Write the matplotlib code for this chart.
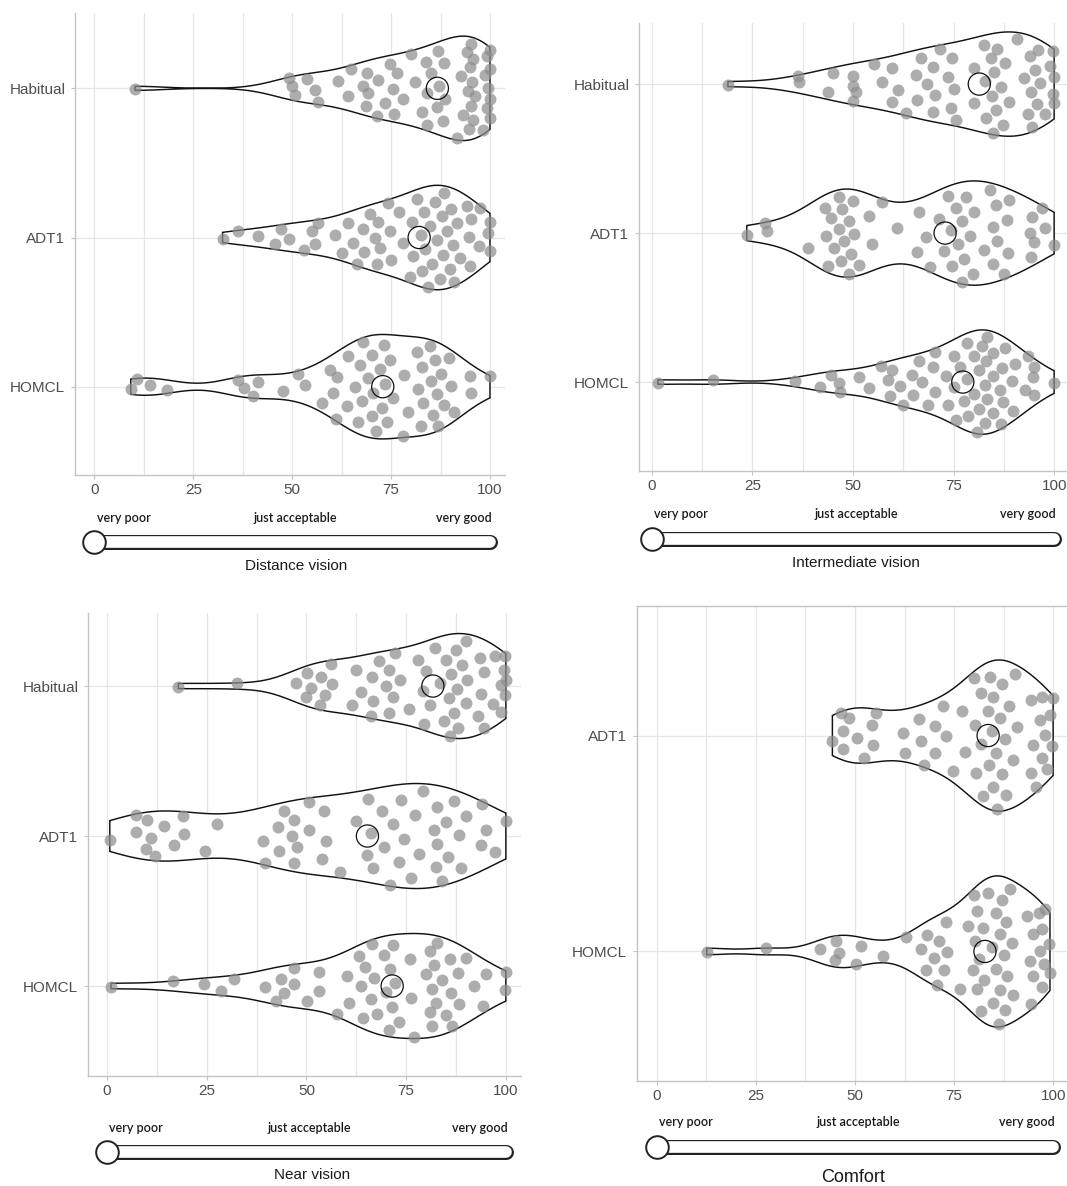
import numpy as np
import matplotlib
matplotlib.use('Agg')
import matplotlib.pyplot as plt

# ---- data (scores, 0-100 VAS) ----
groups3 = ['HOMCL', 'ADT1', 'Habitual']

dist_habitual = [10.3, 49.3, 50, 50.6, 53.7, 55.8, 56.6, 61.5, 64, 64.8, 67.8, 68.6, 69, 69.2,
                 71.5, 71.6, 73.5, 74.7, 75.6, 75.8, 76.4, 78.1, 80, 81, 82.7, 83.8, 84, 84.2,
                 85.2, 86.7, 86.9, 87.2, 88.2, 88.4, 88.6, 91.6, 92.8, 93.3, 94.1, 94.5, 94.8,
                 95, 95.1, 95.2, 95.4, 95.6, 95.8, 96.2, 98.3, 98.7, 99.2, 99.3, 99.6, 100,
                 100, 100, 100]
dist_adt1 = [32.4, 36.4, 41.3, 45.7, 47.2, 49.3, 52.9, 54.9, 55.8, 56.6, 60.8, 62.7, 64.2, 65.5,
             66.5, 68, 68.2, 69.7, 71, 71.5, 71.8, 72.2, 74.3, 74.7, 74.9, 77.1, 77.9, 79.8,
             80.2, 80.6, 81.5, 82.5, 82.7, 83.3, 83.6, 84.4, 84.8, 85.3, 86.1, 86.5, 87.4,
             87.8, 88.2, 88.4, 89.1, 89.9, 90.1, 90.6, 90.8, 91.7, 92.4, 94.1, 94.8, 95,
             95.1, 97.3, 97.5, 99.4, 100, 100]
dist_homcl = [9.2, 10.7, 14.1, 18.3, 36.2, 37.9, 40, 41.4, 47.8, 51.4, 53.2, 57.5, 59.6, 60.4,
              61.2, 61.4, 63.8, 64.2, 65.9, 66.7, 67.1, 67.6, 68, 69.2, 70.1, 70.3, 70.5,
              71.2, 72.2, 72.6, 73.2, 73.5, 73.9, 74.7, 75.6, 77.9, 78.3, 79.4, 81.5, 81.9,
              82.5, 82.7, 83, 84.8, 85, 85.7, 86.1, 86.7, 86.9, 87.5, 88.4, 89.7, 90.1,
              90.9, 94.9, 95.1, 100]

int_habitual = [18.9, 36.3, 36.5, 43.9, 45, 49.9, 50, 50, 50.8, 55.3, 57.2, 59.7, 59.8, 61.3,
                63.1, 65.7, 66, 66.9, 68.4, 69.8, 70, 70.4, 71.7, 73.5, 74.3, 74.6, 75, 75.6,
                80, 80.1, 82.6, 82.8, 83.1, 84.3, 84.5, 84.9, 85.1, 85.6, 85.9, 86.7, 87.4,
                87.9, 88.9, 90.7, 92.4, 93.6, 93.9, 94.2, 94.5, 95.3, 95.7, 96.1, 96.5, 97.8,
                99, 99.8, 99.8, 100, 100]
int_adt1 = [23.6, 28, 28.7, 38.7, 43.1, 43.3, 43.9, 44.5, 45.2, 46.6, 46.6, 47.1, 47.2, 47.8,
            49.1, 49.1, 49.5, 49.9, 50.3, 51.5, 53.9, 54.7, 57.3, 60.9, 65.9, 66.3, 68.1,
            69.2, 71.3, 72.5, 73.6, 74.3, 74.6, 75.6, 76.1, 77.1, 77.1, 77.7, 78.1, 79.1,
            79.9, 80.2, 82.6, 84.1, 84.9, 84.9, 85.6, 85.7, 87.6, 88.4, 88.6, 88.9, 94,
            94.3, 94.5, 94.9, 97.1, 97.8, 100]
int_homcl = [1.5, 15.3, 35.6, 41.7, 44.6, 46.6, 46.8, 51.6, 53.9, 56.9, 58.8, 59.2, 59.7, 61.7,
             62.4, 64.6, 64.8, 66.4, 67.1, 68.6, 70, 70.3, 70.4, 73.2, 73.5, 75, 75.1, 75.6,
             76.6, 77.6, 78.3, 78.4, 78.7, 80, 80, 80.8, 81.2, 81.4, 82, 82.8, 82.8, 83.1,
             83.3, 83.4, 84.7, 84.9, 84.9, 86.6, 86.7, 87, 87.4, 87.8, 89.5, 89.7, 90.3,
             92.8, 93.6, 94.7, 94.9, 94.9, 100]

near_habitual = [17.9, 32.5, 47.4, 49.9, 50.2, 51.1, 53.4, 53.7, 54.6, 56.1, 56.3, 61.4, 62.5,
                 63.6, 66.3, 66.4, 66.6, 68.3, 70, 70.6, 70.8, 71.7, 72.1, 73.5, 75.7, 78,
                 79.3, 79.5, 80, 81, 82.3, 83.4, 84.4, 85.1, 85.7, 86, 86.3, 87, 87.4, 87.7,
                 88, 89.1, 90, 90, 90.2, 93.1, 93.6, 93.8, 94.5, 94.6, 96.8, 97.4, 98.7,
                 98.9, 99.5, 99.7, 99.9, 100]
near_adt1 = [0.7, 7.2, 7.2, 9.7, 10.1, 11, 12.1, 14.4, 16.8, 19.1, 19.3, 24.6, 27.6, 39.1,
             39.7, 42.9, 43.1, 44.4, 46.3, 46.8, 47, 47.6, 50.6, 50.7, 54, 54.4, 54.9, 58.5,
             62.5, 65.3, 65.4, 66.3, 66.6, 68.9, 69.4, 71, 71.7, 73.2, 73.6, 74.4, 76.3,
             77.2, 78.3, 79.3, 81.9, 82.6, 82.7, 82.7, 84, 85.1, 85.4, 87.1, 88.3, 88.7,
             90, 93.8, 94, 95.1, 97.2, 100]
near_homcl = [1, 16.5, 24.3, 28.5, 31.9, 39.5, 42.3, 43.6, 44.4, 46.8, 47, 50.2, 53.1, 53.2,
              57.6, 60.2, 60.8, 63.1, 63.6, 64.3, 64.6, 66.1, 66.4, 67, 67.8, 69.5, 70,
              70.8, 71, 71.5, 71.7, 72.1, 73.2, 75.9, 76.1, 76.9, 80, 80.9, 81, 81.4, 81.6,
              82, 82.6, 82.7, 84, 85.1, 86, 86.3, 86.6, 88, 88.3, 90, 92.1, 94.2, 94.9,
              99.9, 100]

comf_adt1 = [44.3, 46.6, 46.9, 47.1, 48.5, 50.4, 52.3, 54.2, 54.5, 55.3, 62.2, 62.6, 66.2,
             66.6, 67.5, 70.2, 70.3, 72.3, 72.9, 74.8, 77.1, 77.7, 80, 80.3, 80.5, 81.7,
             81.9, 82.2, 83.6, 83.8, 84, 84.5, 84.9, 84.9, 85.7, 85.9, 86.7, 87, 87.2, 87.8,
             88.1, 88.8, 90, 90.3, 90.9, 94.3, 94.5, 94.8, 95.6, 96.6, 97.1, 97.2, 97.9,
             98.5, 99.3, 99.8, 100]
comf_homcl = [12.6, 27.6, 41.2, 45, 45.2, 46, 50.3, 51.5, 57.1, 62.8, 66.6, 67.8, 68.1, 70,
              70.8, 71.2, 72.4, 72.9, 73.1, 76.5, 78.6, 79.8, 80, 80.3, 80.7, 80.7, 81.3,
              81.9, 82.2, 82.5, 83.6, 84.7, 84.9, 85.5, 85.7, 86.4, 86.6, 86.7, 87, 87.6,
              87.8, 88.2, 88.4, 89.2, 89.5, 89.9, 93.3, 94.1, 94.3, 94.8, 95, 96.4, 96.6,
              97.1, 97.3, 97.6, 97.9, 99, 99.2]

# circled centre value of each violin
centres_dist = [72.9, 82.1, 86.7]
centres_int = [77.3, 72.9, 81.4]
centres_near = [71.5, 65.3, 81.7]
centres_comf = [82.8, 83.6]

titles = ['Distance vision', 'Intermediate vision', 'Near vision', 'Comfort']
scale_labels = ['very poor', 'just acceptable', 'very good']
xticks = [0, 25, 50, 75, 100]

W, H = 1067, 1186
fig = plt.figure(figsize=(W / 100, H / 100), dpi=100)
plt.rcParams['font.family'] = ['Liberation Sans', 'DejaVu Sans']


def nrd0(x):
    sd = np.std(x, ddof=1)
    q75, q25 = np.percentile(x, [75, 25])
    lo = min(sd, (q75 - q25) / 1.34)
    if lo <= 0:
        lo = sd
    return 0.9 * lo * len(x) ** -0.2


def kde(x, grid):
    bw = nrd0(x)
    z = (grid[:, None] - x[None, :]) / bw
    return np.exp(-0.5 * z ** 2).sum(1) / (len(x) * bw * np.sqrt(2 * np.pi))


def axes_px(l, t, r, b):
    return fig.add_axes([l / W, 1 - b / H, (r - l) / W, (b - t) / H])


def violin_panel(ax, data, names, centres, xlim, ylim, boxed=False):
    ax.set_xlim(xlim)
    ax.set_ylim(ylim)
    ax.set_xticks(xticks)
    ax.set_xticks([12.5, 37.5, 62.5, 87.5], minor=True)
    pos = np.arange(1, len(names) + 1)
    ax.set_yticks(pos)
    ax.set_yticklabels(names)
    ax.grid(True, which='both', axis='x', color='#e6e6e6', lw=0.9, zorder=0)
    ax.grid(True, which='major', axis='y', color='#e6e6e6', lw=0.9, zorder=0)
    ax.set_axisbelow(True)
    for s in ['top', 'right']:
        ax.spines[s].set_visible(False)
    if boxed:
        ax.spines['top'].set_visible(True)
    for s in ax.spines.values():
        s.set_color('#c4c4c4')
        s.set_linewidth(1.0)
    ax.tick_params(which='major', length=3, color='#c4c4c4', labelsize=11,
                   labelcolor='#4d4d4d')
    ax.tick_params(axis='x', pad=3)
    ax.tick_params(axis='y', pad=4)
    ax.tick_params(which='minor', length=0)

    golden = 0.6180339887
    for p, vals, c in zip(pos, data, centres):
        v = np.array(vals, dtype=float)
        grid = np.linspace(v.min(), v.max(), 512)
        d = kde(v, grid)
        hw = d / d.max() * 0.35
        ax.fill(np.concatenate([grid, grid[::-1]]),
                np.concatenate([p + hw, (p - hw)[::-1]]),
                facecolor='white', edgecolor='#111111', lw=1.05, zorder=2)
        u = 2 * ((np.arange(len(v)) * golden + 0.37) % 1.0) - 1
        off = u * np.interp(v, grid, hw) * 0.97
        ax.scatter(v, p + off, s=74, color='#8e8e8e', alpha=0.72, lw=0, zorder=3)
        ax.scatter([c], [p], s=255, facecolors='none', edgecolors='#111111',
                   lw=0.9, zorder=4)


def slider(l, r, xlim, lab_y, bar_y, title_y, title, title_x, title_size):
    top, bot = lab_y - 14, title_y + 14
    sax = axes_px(l, top, r, bot)
    sax.set_xlim(xlim)
    sax.set_ylim(bot, top)
    sax.axis('off')
    sax.plot([0, 100], [bar_y, bar_y], color='#222222', lw=10.8,
             solid_capstyle='round', clip_on=False)
    sax.plot([0, 100], [bar_y, bar_y], color='white', lw=8.4,
             solid_capstyle='round', clip_on=False)
    sax.scatter([0], [bar_y], s=265, facecolors='white', edgecolors='#222222',
                lw=1.4, zorder=3, clip_on=False)
    font = dict(fontsize=9, family=['Lato', 'DejaVu Sans'], weight='semibold',
                color='#1a1a1a', va='center')
    sax.text(0.6, lab_y, scale_labels[0], ha='left', **font)
    sax.text(50.8, lab_y, scale_labels[1], ha='center', **font)
    sax.text(100.5, lab_y, scale_labels[2], ha='right', **font)
    sax.text(title_x, title_y, title, ha='center', va='center',
             fontsize=title_size, color='#1a1a1a')


# top left: distance vision
ax1 = axes_px(75, 13, 505, 475)
violin_panel(ax1, [dist_homcl, dist_adt1, dist_habitual], groups3, centres_dist,
             (-4.9, 103.8), (0.408, 3.505))
slider(75, 505, (-4.9, 103.8), 518, 542, 566, titles[0], 51, 11)

# top right: intermediate vision
ax2 = axes_px(639, 23, 1067, 471)
violin_panel(ax2, [int_homcl, int_adt1, int_habitual], groups3, centres_int,
             (-3.2, 103.2), (0.403, 3.41))
slider(639, 1067, (-3.2, 103.2), 514, 539, 563, titles[1], 50.7, 11)

# bottom left: near vision
ax3 = axes_px(88, 613, 521, 1076)
violin_panel(ax3, [near_homcl, near_adt1, near_habitual], groups3, centres_near,
             (-4.76, 103.8), (0.4, 3.487))
slider(88, 521, (-4.76, 103.8), 1128, 1152, 1175, titles[2], 51.5, 11)

# bottom right: comfort
ax4 = axes_px(637, 606, 1067, 1081)
violin_panel(ax4, [comf_homcl, comf_adt1], ['HOMCL', 'ADT1'], centres_comf,
             (-5.0, 103.5), (0.40, 2.60), boxed=True)
slider(637, 1067, (-5.0, 103.5), 1122, 1147, 1178, titles[3], 49.5, 13)

fig.savefig('out.png', dpi=100, facecolor='white')
